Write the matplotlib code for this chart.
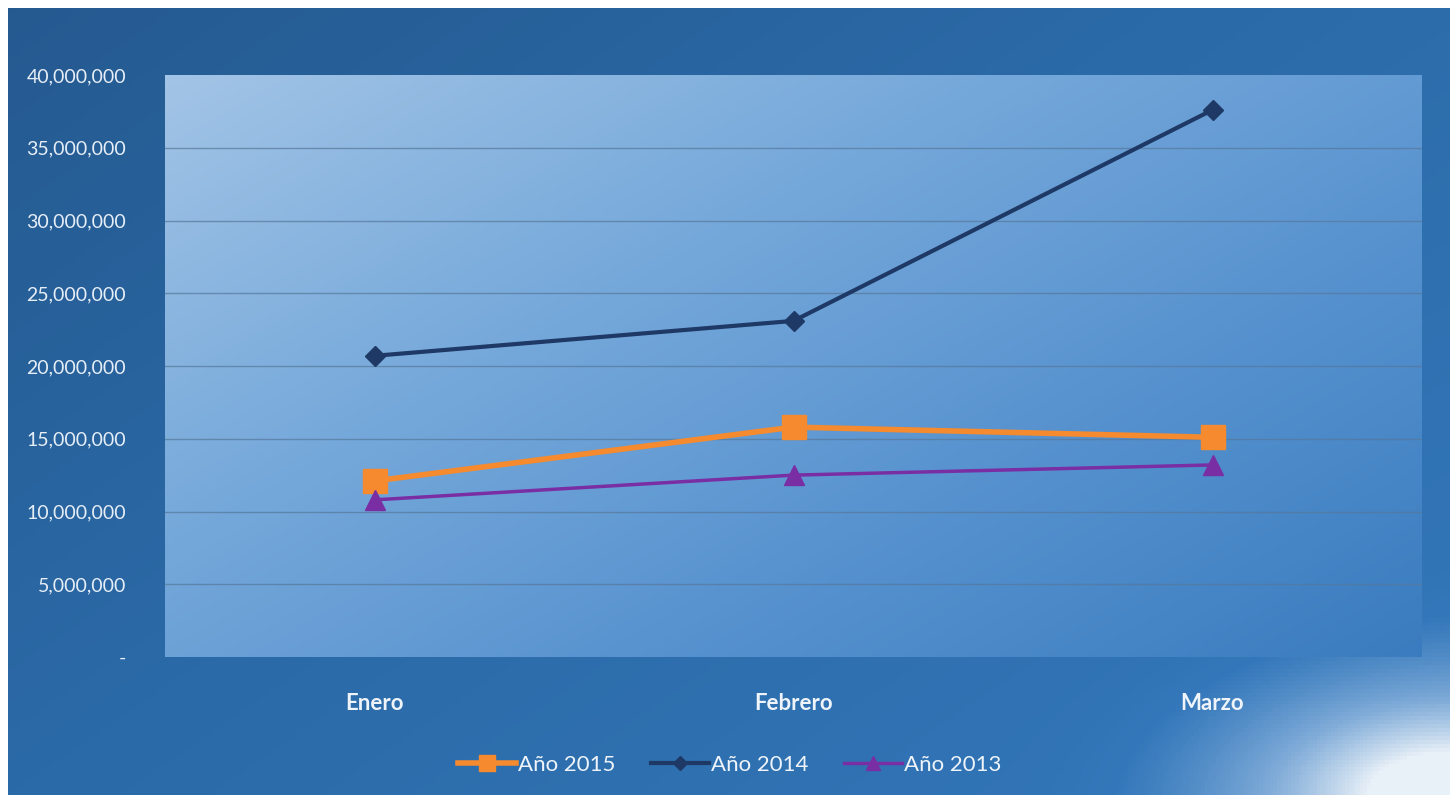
import numpy as np
import matplotlib.pyplot as plt
from matplotlib.colors import LinearSegmentedColormap
from matplotlib.ticker import FuncFormatter

plt.rcParams['font.family'] = ['Lato', 'DejaVu Sans']

meses = ["Enero", "Febrero", "Marzo"]
anio_2015 = [12100000, 15800000, 15100000]
anio_2014 = [20700000, 23100000, 37600000]
anio_2013 = [10800000, 12500000, 13200000]

fig = plt.figure(figsize=(14.54, 7.98), dpi=100)
fig.patch.set_facecolor("white")

# outer dark blue panel with gradient
bg = fig.add_axes([8/1454, 3/798, 1442/1454, 787/798])
bg.set_axis_off()
ny, nx = 200, 400
xx, yy = np.meshgrid(np.linspace(0, 1, nx), np.linspace(0, 1, ny))
base = 0.05 + 0.25 * xx + 0.2 * yy
flare = np.clip(1 - np.hypot((xx - 1.0) / 0.32, (yy - 1.0) / 0.3), 0, 1) ** 2
val = np.clip(base + flare * 0.75, 0, 1)
cmap_bg = LinearSegmentedColormap.from_list(
    "bg", ["#23568a", "#2b6aa8", "#3478bb", "#7fabd8", "#e8f0f8"])
bg.imshow(val, cmap=cmap_bg, vmin=0, vmax=1, aspect="auto",
          extent=[0, 1, 0, 1], origin="upper")

ax = fig.add_axes([165/1454, 1 - 657/798, 1257/1454, 582/798])
ax.set_xlim(-0.5, 2.5)
ax.set_ylim(0, 40000000)

# plot area gradient, light top-left to darker bottom-right
g = 0.55 * xx + 0.45 * yy
cmap_pa = LinearSegmentedColormap.from_list(
    "pa", ["#a2c4e6", "#78aadb", "#5792cf", "#3a7cbf"])
ax.imshow(g, cmap=cmap_pa, aspect="auto", extent=[-0.5, 2.5, 0, 40000000],
          origin="upper", zorder=0)

for v in range(5000000, 40000000, 5000000):
    ax.axhline(v, color="#56789a", lw=1.0, alpha=0.7, zorder=1)

x = np.arange(len(meses))
ax.plot(x, anio_2015, color="#f58a2e", lw=4, marker="s", ms=17,
        label="Año 2015", zorder=4)
ax.plot(x, anio_2014, color="#1e3966", lw=3, marker="D", ms=10,
        label="Año 2014", zorder=3)
ax.plot(x, anio_2013, color="#7a2ea3", lw=2.5, marker="^", ms=14,
        label="Año 2013", zorder=5)

for s in ax.spines.values():
    s.set_visible(False)
ax.tick_params(length=0)
ax.set_xticks(x)
ax.set_xticklabels(meses, fontsize=16, fontweight="bold", color="#eef4fa")
ax.tick_params(axis="x", pad=26)
ax.set_yticks(range(0, 40000001, 5000000))
ax.yaxis.set_major_formatter(
    FuncFormatter(lambda v, p: "-" if v == 0 else f"{v:,.0f}"))
ax.tick_params(axis="y", labelsize=14, labelcolor="#e6eef7", pad=28)

leg = fig.legend(loc="center", bbox_to_anchor=(730/1454, 1 - 765/798),
                 ncol=3, frameon=False, fontsize=16, handlelength=2.6,
                 handletextpad=0.1, columnspacing=1.6, markerscale=0.7)
for t in leg.get_texts():
    t.set_color("#eef4fa")

fig.savefig("out.png", dpi=100, facecolor=fig.get_facecolor())
